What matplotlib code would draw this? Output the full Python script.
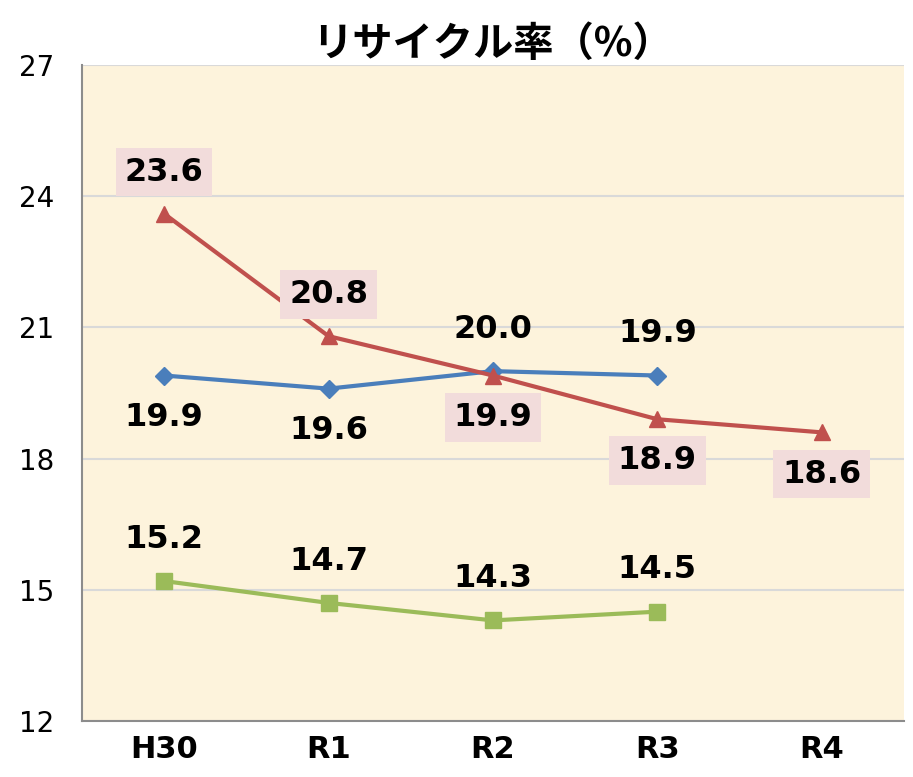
import numpy as np
import matplotlib.pyplot as plt

plt.rcParams['font.family'] = ['Noto Sans CJK JP', 'DejaVu Sans']

# data
years = ['H30', 'R1', 'R2', 'R3', 'R4']
blue = [19.9, 19.6, 20.0, 19.9]
red = [23.6, 20.8, 19.9, 18.9, 18.6]
green = [15.2, 14.7, 14.3, 14.5]

# label side: +1 above the point, -1 below
blue_side = [-1, -1, 1, 1]
red_side = [1, 1, -1, -1, -1]
green_side = [1, 1, 1, 1]

num_font = ['DejaVu Sans']

fig = plt.figure(figsize=(9.13, 7.77), dpi=100)
ax = fig.add_axes([0.0898, 0.0721, 0.9002, 0.8442])
ax.set_facecolor('#FDF3DC')

x = np.arange(len(years))
ax.plot(x[:4], blue, '-D', color='#4A7EBB', lw=3, ms=9, zorder=3)
ax.plot(x, red, '-^', color='#C0504D', lw=3, ms=12, zorder=3)
ax.plot(x[:4], green, '-s', color='#9BBB59', lw=3, ms=12, zorder=3)

def put_labels(vals, sides, box=False):
    for i, (v, s) in enumerate(zip(vals, sides)):
        kw = {}
        if box:
            kw['bbox'] = dict(boxstyle='square,pad=0.28', fc='#F2DCDB', ec='none')
        ax.annotate('%.1f' % v, (i, v), xytext=(0, 30 * s), textcoords='offset points',
                    ha='center', va='center', fontsize=23, fontweight='bold',
                    family=num_font, zorder=4, **kw)

put_labels(blue, blue_side)
put_labels(red, red_side, box=True)
put_labels(green, green_side)

ax.set_xlim(-0.5, 4.5)
ax.set_ylim(12, 27)
ax.set_yticks([12, 15, 18, 21, 24, 27])
ax.set_yticklabels(['12', '15', '18', '21', '24', '27'], family=num_font, fontsize=20)
ax.set_xticks(x)
ax.set_xticklabels(years, fontsize=22, fontweight='bold', family=num_font)
ax.tick_params(axis='y', length=0, pad=20)
ax.tick_params(axis='x', length=0, pad=10)
ax.grid(axis='y', color='#D9D9D9', lw=1.5)
ax.set_axisbelow(True)
for s in ['top', 'right']:
    ax.spines[s].set_visible(False)
ax.spines['left'].set_color('#8C8C8C')
ax.spines['bottom'].set_color('#8C8C8C')
ax.spines['left'].set_linewidth(1.5)
ax.spines['bottom'].set_linewidth(1.5)

ax.set_title('リサイクル率（%）', fontsize=29, fontweight='bold', pad=2)

plt.savefig('out.png', dpi=100)
